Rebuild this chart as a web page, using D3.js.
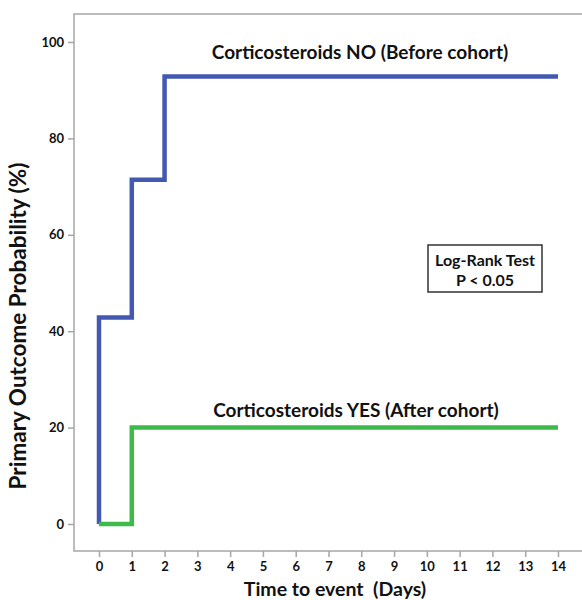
<!DOCTYPE html>
<html><head><meta charset="utf-8">
<script src="https://cdn.jsdelivr.net/npm/d3@7"></script>
<style>body{margin:0;background:#fff}svg{display:block;font-family:Lato,"Open Sans",sans-serif}</style>
</head><body>
<svg id="c" width="582" height="600"></svg>
<script>
const days = [0,1,2,3,4,5,6,7,8,9,10,11,12,13,14];
const yTicks = [0,20,40,60,80,100];
const noTimes = [0,0,1,2,14];
const noValues = [0,42.86,71.43,92.86,92.86];
const yesTimes = [0,1,14];
const yesValues = [0,20,20];
const noLabel = "Corticosteroids NO (Before cohort)";
const yesLabel = "Corticosteroids YES (After cohort)";
const testLines = ["Log-Rank Test","P < 0.05"];

const svg = d3.select("#c");
const x = d3.scaleLinear().domain([0,14]).range([99,558]);
const y = d3.scaleLinear().domain([0,100]).range([524,42]);
const fLeft=74, fTop=14, fBottom=551, fRight=600;
const axisCol="#a6a6a6";

// frame
svg.append("path").attr("d",`M${fRight},${fTop}H${fLeft}V${fBottom}H${fRight}`)
  .attr("fill","none").attr("stroke",axisCol).attr("stroke-width",1.5);

const yAx = svg.append("g").attr("transform",`translate(${fLeft},0)`)
  .call(d3.axisLeft(y).tickValues(yTicks).tickSize(6).tickPadding(4));
const xAx = svg.append("g").attr("transform",`translate(0,${fBottom})`)
  .call(d3.axisBottom(x).tickValues(days).tickSize(6).tickPadding(5));
[yAx,xAx].forEach(g=>{
  g.select(".domain").remove();
  g.selectAll("line").attr("stroke",axisCol).attr("stroke-width",1.5);
  g.selectAll("text").attr("fill","#111").attr("font-size",13).attr("font-weight","bold").attr("font-family","Lato,sans-serif");
});

const step = d3.line().x(d=>x(d[0])).y(d=>y(d[1])).curve(d3.curveStepAfter);
svg.append("path").datum(noTimes.map((t,i)=>[t,noValues[i]]))
  .attr("d",step).attr("fill","none").attr("stroke","#4358b0").attr("stroke-width",4.5).attr("stroke-linejoin","miter");
svg.append("path").datum(yesTimes.map((t,i)=>[t,yesValues[i]]))
  .attr("d",step).attr("fill","none").attr("stroke","#3dba4a").attr("stroke-width",4.5).attr("stroke-linejoin","miter");

svg.append("text").attr("x",360).attr("y",59).attr("text-anchor","middle")
  .attr("font-size",19).attr("font-weight","bold").attr("fill","#111").text(noLabel);
svg.append("text").attr("x",356).attr("y",417).attr("text-anchor","middle")
  .attr("font-size",19).attr("font-weight","bold").attr("fill","#111").text(yesLabel);

svg.append("rect").attr("x",428).attr("y",245).attr("width",114).attr("height",47)
  .attr("fill","#fff").attr("stroke","#333").attr("stroke-width",1.5);
testLines.forEach((t,i)=>svg.append("text").attr("x",485).attr("y",266+i*20)
  .attr("text-anchor","middle").attr("font-size",16).attr("font-weight","bold").attr("fill","#111").text(t));

svg.append("text").attr("transform",`translate(26,326) rotate(-90)`).attr("text-anchor","middle")
  .attr("font-size",22.5).attr("font-weight","bold").attr("fill","#111").text("Primary Outcome Probability (%)");
svg.append("text").attr("x",335).attr("y",596).attr("text-anchor","middle")
  .attr("font-size",19.5).attr("font-weight","bold").attr("fill","#111").attr("xml:space","preserve").text("Time to event  (Days)");
</script>
</body></html>
